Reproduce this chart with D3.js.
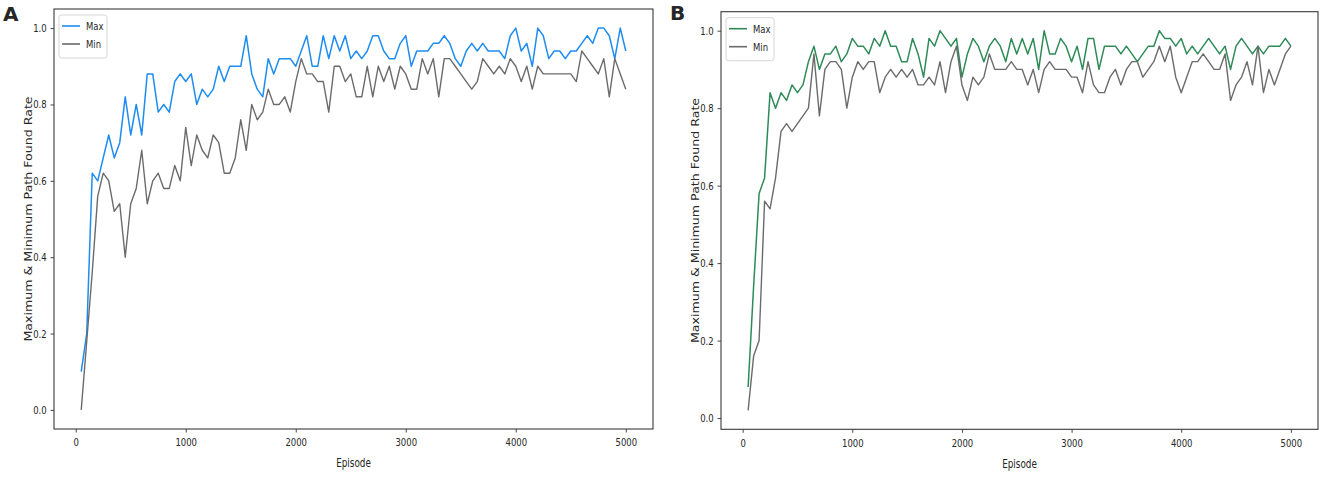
<!DOCTYPE html>
<html><head><meta charset="utf-8">
<script src="https://cdn.jsdelivr.net/npm/d3@7"></script>
<style>
body{margin:0;background:#fff}
svg{display:block}
text{font-family:"DejaVu Sans",Verdana,sans-serif;fill:#262626}
</style>
</head><body>
<svg id="chart" width="1325" height="477"></svg>
<script>
// ---- data ----
const episodes = d3.range(50, 5001, 50);
const seriesNames = ["Max", "Min"];
const panelLabels = ["A", "B"];
const xTicks = [0, 1000, 2000, 3000, 4000, 5000];
const yTicks = [0, 0.2, 0.4, 0.6, 0.8, 1.0];
const xTitle = "Episode";
const yTitle = "Maximum & Minimum Path Found Rate";

const maxA = [0.10,0.20,0.62,0.60,0.66,0.72,0.66,0.70,0.82,0.72,
 0.80,0.72,0.88,0.88,0.78,0.80,0.78,0.86,0.88,0.86,
 0.88,0.80,0.84,0.82,0.84,0.90,0.86,0.90,0.90,0.90,
 0.98,0.88,0.84,0.82,0.92,0.88,0.92,0.92,0.92,0.90,
 0.94,0.98,0.90,0.90,0.98,0.92,0.98,0.94,0.98,0.92,
 0.94,0.92,0.94,0.98,0.98,0.94,0.92,0.92,0.96,0.98,
 0.90,0.94,0.94,0.94,0.96,0.96,0.98,0.96,0.92,0.90,
 0.94,0.96,0.94,0.96,0.94,0.94,0.94,0.92,0.98,1.00,
 0.94,0.96,0.90,1.00,0.98,0.92,0.94,0.94,0.92,0.94,
 0.94,0.96,0.98,0.96,1.00,1.00,0.98,0.92,1.00,0.94];
const minA = [0.00,0.18,0.36,0.56,0.62,0.60,0.52,0.54,0.40,0.54,
 0.58,0.68,0.54,0.60,0.62,0.58,0.58,0.64,0.60,0.74,
 0.64,0.72,0.68,0.66,0.72,0.70,0.62,0.62,0.66,0.76,
 0.68,0.80,0.76,0.78,0.84,0.80,0.80,0.82,0.78,0.86,
 0.92,0.88,0.88,0.86,0.86,0.78,0.90,0.90,0.86,0.88,
 0.82,0.82,0.90,0.82,0.90,0.86,0.90,0.84,0.90,0.88,
 0.84,0.84,0.92,0.88,0.92,0.82,0.92,0.92,0.90,0.88,
 0.86,0.84,0.86,0.92,0.90,0.88,0.90,0.88,0.92,0.90,
 0.86,0.90,0.84,0.90,0.88,0.88,0.88,0.88,0.88,0.88,
 0.86,0.94,0.92,0.90,0.88,0.92,0.82,0.92,0.88,0.84];
const maxB = [0.08,0.34,0.58,0.62,0.84,0.80,0.84,0.82,0.86,0.84,
 0.86,0.92,0.96,0.90,0.94,0.94,0.96,0.92,0.94,0.98,
 0.96,0.96,0.94,0.98,0.96,1.00,0.96,0.96,0.92,0.92,
 0.98,0.94,0.88,0.98,0.96,1.00,0.98,0.96,0.98,0.88,
 0.94,0.98,0.96,0.92,0.96,0.98,0.96,0.92,0.98,0.94,
 0.98,0.94,0.98,0.90,1.00,0.94,0.94,0.98,0.96,0.92,
 0.96,0.90,0.98,0.98,0.90,0.96,0.96,0.96,0.94,0.96,
 0.94,0.92,0.94,0.96,0.96,1.00,0.98,0.98,0.96,0.98,
 0.94,0.96,0.94,0.96,0.98,0.96,0.94,0.96,0.90,0.96,
 0.98,0.96,0.94,0.96,0.94,0.96,0.96,0.96,0.98,0.96];
const minB = [0.02,0.16,0.20,0.56,0.54,0.62,0.74,0.76,0.74,0.76,
 0.78,0.80,0.94,0.78,0.90,0.92,0.92,0.90,0.80,0.88,
 0.92,0.90,0.92,0.92,0.84,0.88,0.90,0.88,0.90,0.88,
 0.90,0.86,0.86,0.88,0.86,0.92,0.84,0.92,0.96,0.86,
 0.82,0.88,0.86,0.88,0.94,0.90,0.90,0.90,0.92,0.90,
 0.90,0.86,0.90,0.84,0.90,0.92,0.90,0.90,0.90,0.88,
 0.88,0.84,0.92,0.86,0.84,0.84,0.88,0.90,0.86,0.90,
 0.92,0.92,0.88,0.90,0.92,0.96,0.92,0.96,0.88,0.84,
 0.88,0.92,0.92,0.94,0.92,0.90,0.90,0.94,0.82,0.86,
 0.88,0.92,0.86,0.96,0.84,0.90,0.86,0.90,0.94,0.96];

// ---- drawing ----
const SX = 0.77; // horizontal squeeze of the source image
const svg = d3.select("#chart");

function pad(ext) { const p = (ext[1] - ext[0]) * 0.05; return [ext[0] - p, ext[1] + p]; }

function panel(cfg) {
  const g = svg.append("g");
  const x = d3.scaleLinear().domain(pad(d3.extent(episodes))).range([cfg.left, cfg.right]);
  const y = d3.scaleLinear().domain(pad(d3.extent(cfg.maxV.concat(cfg.minV)))).range([cfg.bottom, cfg.top]);

  // lines (Min drawn after Max like the source)
  const line = d3.line().x((d, i) => x(episodes[i])).y(d => y(d));
  g.append("path").datum(cfg.maxV).attr("d", line)
    .attr("fill", "none").attr("stroke", cfg.maxColor).attr("stroke-width", 1.5).attr("stroke-linejoin", "round");
  g.append("path").datum(cfg.minV).attr("d", line)
    .attr("fill", "none").attr("stroke", "#6b6b6b").attr("stroke-width", 1.4).attr("stroke-linejoin", "round");

  // axes
  const xa = g.append("g").attr("transform", `translate(0,${cfg.bottom})`)
    .call(d3.axisBottom(x).tickValues(xTicks).tickFormat(d3.format("d")).tickSize(3.5).tickPadding(6));
  const ya = g.append("g").attr("transform", `translate(${cfg.left},0)`)
    .call(d3.axisLeft(y).tickValues(yTicks).tickFormat(d3.format(".1f")).tickSize(3.5).tickPadding(6));
  [xa, ya].forEach(a => {
    a.select(".domain").remove();
    a.selectAll("line").attr("stroke", "#333").attr("stroke-width", 0.9);
    a.selectAll("text").attr("font-size", 11).attr("fill", "#262626")
      .style("font-family", '"DejaVu Sans",sans-serif')
      .attr("transform", `scale(${SX},1)`);
  });

  // frame
  g.append("rect").attr("x", cfg.left).attr("y", cfg.top)
    .attr("width", cfg.right - cfg.left).attr("height", cfg.bottom - cfg.top)
    .attr("fill", "none").attr("stroke", "#3a3a3a").attr("stroke-width", 1.1);

  // axis titles
  g.append("text").text(xTitle)
    .attr("transform", `translate(${(cfg.left + cfg.right) / 2 + 0},${cfg.bottom + 34}) scale(${SX},1)`)
    .attr("text-anchor", "middle").attr("dominant-baseline", "central").attr("font-size", 11.5);
  g.append("text").text(yTitle)
    .attr("transform", `translate(${cfg.left - 25},${(cfg.top + cfg.bottom) / 2}) scale(${SX},1) rotate(-90)`)
    .attr("text-anchor", "middle").attr("dominant-baseline", "central").attr("font-size", 12.6);

  // legend
  const lg = g.append("g").attr("transform", `translate(${cfg.left + 5},${cfg.top + 6})`);
  lg.append("rect").attr("x", 0).attr("y", 0).attr("width", 48).attr("height", 43).attr("rx", 2.5)
    .attr("fill", "#fff").attr("fill-opacity", 0.85).attr("stroke", "#d6d6d6").attr("stroke-width", 1);
  const cols = [cfg.maxColor, "#6b6b6b"];
  seriesNames.forEach((n, i) => {
    const yy = 11 + i * 18;
    lg.append("line").attr("x1", 3).attr("x2", 21).attr("y1", yy).attr("y2", yy)
      .attr("stroke", cols[i]).attr("stroke-width", 1.6);
    lg.append("text").text(n).attr("transform", `translate(27,${yy}) scale(${SX},1)`)
      .attr("dominant-baseline", "central").attr("font-size", 11);
  });

  // panel letter
  svg.append("text").text(cfg.letter).attr("x", cfg.letterX).attr("y", cfg.letterY)
    .attr("font-family", '"Liberation Sans",Arial,sans-serif').attr("font-weight", "bold")
    .attr("font-size", 20).attr("fill", "#000");
}

panel({left: 54, right: 653, top: 9, bottom: 429, maxV: maxA, minV: minA,
       maxColor: "#1e8cf0", letter: panelLabels[0], letterX: 3, letterY: 21});
panel({left: 721, right: 1318, top: 11.7, bottom: 429.3, maxV: maxB, minV: minB,
       maxColor: "#2e8b57", letter: panelLabels[1], letterX: 670, letterY: 20});
</script>
</body></html>
